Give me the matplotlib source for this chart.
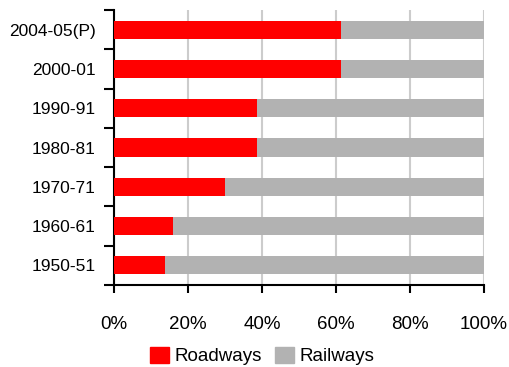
import numpy as np
import matplotlib.pyplot as plt
from matplotlib.patches import Patch

plt.rcParams['font.family'] = ['Liberation Sans', 'DejaVu Sans']

# Share of freight traffic (%)
years = ['1950-51', '1960-61', '1970-71', '1980-81', '1990-91', '2000-01', '2004-05(P)']
roadways = np.array([13.8, 15.9, 30.0, 38.6, 38.6, 61.4, 61.4])
railways = 100 - roadways

red = '#ff0000'
grey = '#b2b2b2'

fig = plt.figure(figsize=(5.09, 3.67), dpi=100)
ax = fig.add_axes([114/509, 1 - 285/367, 370/509, 275/367])

y = np.arange(len(years))
ax.barh(y, roadways, height=0.46, color=red, zorder=3)
ax.barh(y, railways, left=roadways, height=0.46, color=grey, zorder=3)

ax.set_xlim(0, 100)
ax.set_ylim(-0.5, len(years) - 0.5)

ax.set_xticks([0, 20, 40, 60, 80, 100])
ax.set_xticklabels(['0%', '20%', '40%', '60%', '80%', '100%'], fontsize=13.5)
ax.tick_params(axis='x', direction='out', length=6, width=1.5, pad=16)

ax.set_yticks(y)
ax.set_yticklabels(years, fontsize=12.5)
ax.set_yticks(np.arange(-0.5, len(years)), minor=True)
ax.tick_params(axis='y', which='major', length=0, pad=13)
ax.tick_params(axis='y', which='minor', direction='out', length=7, width=1.5)

ax.grid(axis='x', color='#cccccc', linewidth=1.5, zorder=0)
for s in ['top', 'right']:
    ax.spines[s].set_visible(False)
for s in ['left', 'bottom']:
    ax.spines[s].set_linewidth(1.5)

handles = [Patch(color=red, label='Roadways'), Patch(color=grey, label='Railways')]
fig.legend(handles=handles, loc='center', bbox_to_anchor=(262/509, 1 - 356/367),
           ncol=2, frameon=False, fontsize=13.5, handlelength=1.0, handleheight=1.0,
           handletextpad=0.3, columnspacing=0.7)

fig.savefig('out.png', dpi=100)
